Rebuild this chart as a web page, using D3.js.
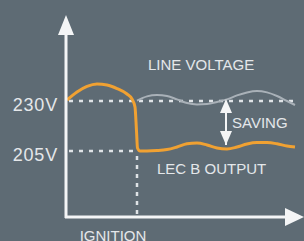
<!DOCTYPE html>
<html>
<head>
<meta charset="utf-8">
<script src="https://cdn.jsdelivr.net/npm/d3@7"></script>
<style>
  html, body { margin: 0; padding: 0; background: #5e6b74; }
  svg { display: block; }
  text { font-family: "Liberation Sans", Arial, sans-serif; fill: #e4e7ea; }
</style>
</head>
<body>
<svg></svg>
<script>
// time in arbitrary units, ignition at t = 7
const ignitionTime = 7
const voltTicks = [230, 205]
const voltLabels = ["230V", "205V"]

const lecTime = [0, 1, 2, 3, 4, 5, 6, 6.5, 6.8, 6.95, 7.05, 7.3, 8, 9, 10, 11, 12, 13, 14, 15, 16, 17, 18, 19, 20, 21, 22, 22.8]
const lecVolt = [230.5, 234.5, 237.3, 238.5, 238, 236.2, 233.5, 231, 227, 215, 206.5, 205, 205, 205.2, 205.7, 207, 208.6, 209, 208, 206.5, 206, 207, 208.5, 209.2, 209.2, 208.6, 207.5, 207]

const lineTime = [7, 8, 9, 10, 11, 12, 13, 14, 15, 16, 17, 18, 19, 20, 21, 22, 22.8]
const lineVolt = [230.2, 232.3, 233, 232.5, 230.8, 229, 228.3, 228.5, 229.5, 230.8, 232.8, 234.3, 235, 234.3, 232.5, 230, 228]

const labels = [
  { text: "LINE VOLTAGE", t: 8.1, v: 245.5, anchor: "start" },
  { text: "SAVING", t: 16.5, v: 216.5, anchor: "start" },
  { text: "LEC B OUTPUT", t: 9, v: 193.5, anchor: "start" },
  { text: "IGNITION", t: 4.6, v: 160, anchor: "middle" }
]

const svg = d3.select("svg")
  .attr("width", 304)
  .attr("height", 241)

const scaleX = d3.scaleLinear()
  .domain([0, 23])
  .range([67, 297])

const scaleY = d3.scaleLinear()
  .domain([205, 230])
  .range([151, 101])

const axisColor = "#f4f5f6"

// dotted guides
svg.selectAll("line.guide")
  .data(voltTicks)
  .enter()
  .append("line")
  .attr("class", "guide")
  .attr("x1", scaleX(0) + 2)
  .attr("x2", (d, i) => i == 0 ? scaleX(22.8) : scaleX(ignitionTime))
  .attr("y1", d => scaleY(d))
  .attr("y2", d => scaleY(d))
  .attr("stroke", "#dfe3e6")
  .attr("stroke-width", 2.5)
  .attr("stroke-dasharray", "4,6")

svg.append("line")
  .attr("x1", scaleX(ignitionTime))
  .attr("x2", scaleX(ignitionTime))
  .attr("y1", scaleY(205) + 5)
  .attr("y2", 216)
  .attr("stroke", "#dfe3e6")
  .attr("stroke-width", 2.5)
  .attr("stroke-dasharray", "4,5")

const line = d3.line()
  .x(d => scaleX(d[0]))
  .y(d => scaleY(d[1]))
  .curve(d3.curveMonotoneX)

svg.append("path")
  .datum(d3.zip(lineTime, lineVolt))
  .attr("d", line)
  .attr("fill", "none")
  .attr("stroke", "#a9b1b8")
  .attr("stroke-width", 2)

svg.append("path")
  .datum(d3.zip(lecTime, lecVolt))
  .attr("d", line)
  .attr("fill", "none")
  .attr("stroke", "#f0a132")
  .attr("stroke-width", 3)

// axes
svg.append("line")
  .attr("x1", 66).attr("x2", 66)
  .attr("y1", 30).attr("y2", 218)
  .attr("stroke", axisColor)
  .attr("stroke-width", 3)

svg.append("path")
  .attr("d", "M66,15 L74,35 L58,35 Z")
  .attr("fill", axisColor)

svg.append("line")
  .attr("x1", 65).attr("x2", 290)
  .attr("y1", 217).attr("y2", 217)
  .attr("stroke", axisColor)
  .attr("stroke-width", 3)

svg.append("path")
  .attr("d", "M304,217 L285,208 L285,226 Z")
  .attr("fill", axisColor)

// saving arrow
const savingX = scaleX(15.9)
svg.append("line")
  .attr("x1", savingX).attr("x2", savingX)
  .attr("y1", scaleY(228)).attr("y2", scaleY(208))
  .attr("stroke", axisColor)
  .attr("stroke-width", 2)

svg.append("path")
  .attr("d", `M${savingX},${scaleY(230) - 2} l6,14 l-12,0 Z`)
  .attr("fill", axisColor)

svg.append("path")
  .attr("d", `M${savingX},${scaleY(207) - 2} l6,-14 l-12,0 Z`)
  .attr("fill", axisColor)

// y tick labels
svg.selectAll("text.tick")
  .data(voltTicks)
  .enter()
  .append("text")
  .attr("class", "tick")
  .attr("x", 58)
  .attr("y", d => scaleY(d) + 10)
  .attr("text-anchor", "end")
  .attr("font-size", 18)
  .attr("letter-spacing", 0.8)
  .text((d, i) => voltLabels[i])

svg.selectAll("text.label")
  .data(labels)
  .enter()
  .append("text")
  .attr("class", "label")
  .attr("x", d => scaleX(d.t))
  .attr("y", d => scaleY(d.v))
  .attr("text-anchor", d => d.anchor)
  .attr("font-size", 15)
  .text(d => d.text)
</script>
</body>
</html>
